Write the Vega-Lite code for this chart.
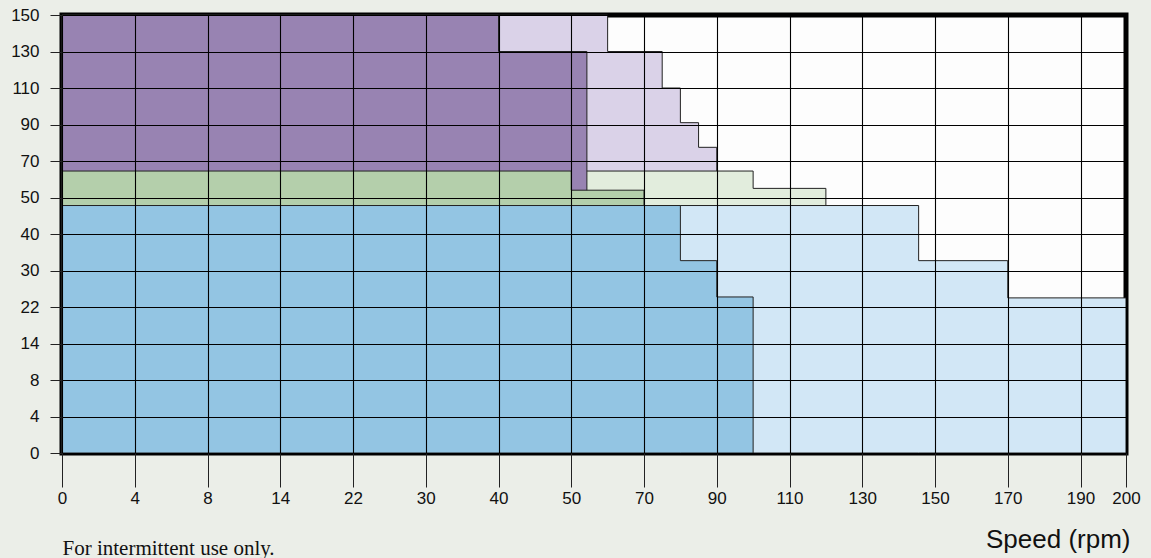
{
  "$schema": "https://vega.github.io/schema/vega-lite/v6.json",
  "width": 1064,
  "height": 438,
  "autosize": "none",
  "padding": {"left": 62, "top": 15, "right": 25, "bottom": 105},
  "background": "#ebeee8",
  "config": {
    "view": {"fill": "#fdfdfd", "stroke": "#000000", "strokeWidth": 5},
    "font": "Liberation Sans"
  },
  "data": {
    "values": [
      {"region": "purple_int", "speed": 0, "torque": 150},
      {"region": "purple_int", "speed": 60, "torque": 130},
      {"region": "purple_int", "speed": 75, "torque": 110},
      {"region": "purple_int", "speed": 80, "torque": 91},
      {"region": "purple_int", "speed": 85, "torque": 77.5},
      {"region": "purple_int", "speed": 90, "torque": 0},
      {"region": "green_int", "speed": 0, "torque": 64.5},
      {"region": "green_int", "speed": 100, "torque": 55},
      {"region": "green_int", "speed": 120, "torque": 0},
      {"region": "blue_int", "speed": 0, "torque": 47.8},
      {"region": "blue_int", "speed": 145.5, "torque": 32.7},
      {"region": "blue_int", "speed": 170, "torque": 24},
      {"region": "blue_int", "speed": 200, "torque": 0},
      {"region": "purple", "speed": 0, "torque": 150},
      {"region": "purple", "speed": 40, "torque": 130},
      {"region": "purple", "speed": 54.3, "torque": 0},
      {"region": "green", "speed": 0, "torque": 64.5},
      {"region": "green", "speed": 50, "torque": 54},
      {"region": "green", "speed": 70, "torque": 0},
      {"region": "blue", "speed": 0, "torque": 47.8},
      {"region": "blue", "speed": 80, "torque": 32.7},
      {"region": "blue", "speed": 90, "torque": 24.2},
      {"region": "blue", "speed": 100, "torque": 0}
    ]
  },
  "encoding": {
    "x": {
      "field": "speed",
      "type": "quantitative",
      "scale": {
        "domain": [0, 4, 8, 14, 22, 30, 40, 50, 70, 90, 110, 130, 150, 170, 190, 200],
        "range": [0, 72.75, 145.5, 218.25, 291, 363.75, 436.5, 509.25, 582, 654.75, 727.5, 800.25, 873, 945.75, 1018.5, 1064],
        "nice": false,
        "zero": false
      },
      "axis": {
        "values": [0, 4, 8, 14, 22, 30, 40, 50, 70, 90, 110, 130, 150, 170, 190, 200],
        "title": "Speed (rpm)",
        "titleFont": "Liberation Sans",
        "titleFontSize": 26,
        "titleFontWeight": "normal",
        "titleColor": "#111111",
        "titleAlign": "right",
        "titleAnchor": null,
        "titleX": 1068,
        "titleY": 94,
        "titleBaseline": "alphabetic",
        "tickSize": 34,
        "tickColor": "#222222",
        "labelFont": "Liberation Sans",
        "labelFontSize": 17,
        "labelColor": "#111111",
        "labelPadding": 3,
        "labelFlush": false,
        "labelOverlap": false,
        "domain": false,
        "grid": true,
        "gridColor": "#000000",
        "gridOpacity": 1,
        "gridWidth": 1.1,
        "zindex": 1
      }
    },
    "y": {
      "field": "torque",
      "type": "quantitative",
      "stack": null,
      "scale": {
        "domain": [0, 4, 8, 14, 22, 30, 40, 50, 70, 90, 110, 130, 150],
        "range": [438, 401.5, 365, 328.5, 292, 255.5, 219, 182.5, 146, 109.5, 73, 36.5, 0],
        "nice": false,
        "zero": false
      },
      "axis": {
        "values": [0, 4, 8, 14, 22, 30, 40, 50, 70, 90, 110, 130, 150],
        "title": "For intermittent use only.",
        "titleFont": "Liberation Serif",
        "titleFontSize": 21,
        "titleFontWeight": "normal",
        "titleColor": "#111111",
        "titleAngle": 0,
        "titleAlign": "left",
        "titleAnchor": null,
        "titleBaseline": "alphabetic",
        "titleX": 0,
        "titleY": 539,
        "tickSize": 12,
        "tickColor": "#222222",
        "labelFont": "Liberation Sans",
        "labelFontSize": 17,
        "labelColor": "#111111",
        "labelPadding": 11,
        "labelFlush": false,
        "labelOverlap": false,
        "domain": false,
        "grid": true,
        "gridColor": "#000000",
        "gridOpacity": 1,
        "gridWidth": 1.1,
        "zindex": 1
      }
    }
  },
  "layer": [
    {
      "transform": [{"filter": "datum.region === 'purple_int'"}],
      "mark": {"type": "area", "interpolate": "step-after", "fill": "#dad2e8", "stroke": "#222222", "strokeWidth": 1, "opacity": 1}
    },
    {
      "transform": [{"filter": "datum.region === 'green_int'"}],
      "mark": {"type": "area", "interpolate": "step-after", "fill": "#e2eddd", "stroke": "#222222", "strokeWidth": 1, "opacity": 1}
    },
    {
      "transform": [{"filter": "datum.region === 'blue_int'"}],
      "mark": {"type": "area", "interpolate": "step-after", "fill": "#d2e7f6", "stroke": "#222222", "strokeWidth": 1, "opacity": 1}
    },
    {
      "transform": [{"filter": "datum.region === 'purple'"}],
      "mark": {"type": "area", "interpolate": "step-after", "fill": "#9883b2", "stroke": "#222222", "strokeWidth": 1, "opacity": 1}
    },
    {
      "transform": [{"filter": "datum.region === 'green'"}],
      "mark": {"type": "area", "interpolate": "step-after", "fill": "#b4cfab", "stroke": "#222222", "strokeWidth": 1, "opacity": 1}
    },
    {
      "transform": [{"filter": "datum.region === 'blue'"}],
      "mark": {"type": "area", "interpolate": "step-after", "fill": "#93c5e3", "stroke": "#222222", "strokeWidth": 1, "opacity": 1}
    }
  ]
}
